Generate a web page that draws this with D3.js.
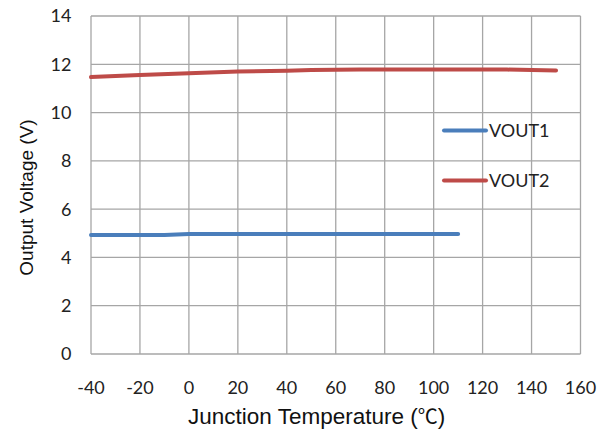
<!DOCTYPE html>
<html>
<head>
<meta charset="utf-8">
<script src="https://cdn.jsdelivr.net/npm/d3@7"></script>
<style>
  body { margin: 0; background: #fff; }
  svg { display: block; }
</style>
</head>
<body>
<script>
// values
var xTicks = [-40, -20, 0, 20, 40, 60, 80, 100, 120, 140, 160];
var yTicks = [0, 2, 4, 6, 8, 10, 12, 14];

var vout1Temp = [-40, -10, 0, 110];
var vout1Volt = [4.93, 4.93, 4.97, 4.97];

var vout2Temp = [-40, -20, 0, 20, 40, 50, 70, 130, 150];
var vout2Volt = [11.47, 11.56, 11.63, 11.70, 11.73, 11.76, 11.78, 11.78, 11.74];

var seriesNames = ["VOUT1", "VOUT2"];
var seriesColors = ["#4a7ebb", "#be4b48"];

var width = 609, height = 433;
var plotLeft = 91, plotRight = 580.5, plotTop = 16, plotBottom = 354;

var svg = d3.select("body").append("svg")
            .attr("width", width)
            .attr("height", height);

var x = d3.scaleLinear().domain([-40, 160]).range([plotLeft, plotRight]);
var y = d3.scaleLinear().domain([0, 14]).range([plotBottom, plotTop]);

var tickFont = "Lato, 'Open Sans', sans-serif";

// grid
svg.append("g").selectAll("line")
   .data(xTicks)
   .enter().append("line")
   .attr("x1", function (d) { return x(d); })
   .attr("x2", function (d) { return x(d); })
   .attr("y1", plotTop)
   .attr("y2", plotBottom)
   .attr("stroke", "#a6a6a6")
   .attr("stroke-width", 1.3);

svg.append("g").selectAll("line")
   .data(yTicks)
   .enter().append("line")
   .attr("x1", plotLeft)
   .attr("x2", plotRight)
   .attr("y1", function (d) { return y(d); })
   .attr("y2", function (d) { return y(d); })
   .attr("stroke", "#a6a6a6")
   .attr("stroke-width", 1.3);

// tick labels
svg.append("g").selectAll("text")
   .data(yTicks)
   .enter().append("text")
   .attr("x", 71.5)
   .attr("y", function (d) { return y(d); })
   .attr("dy", "0.36em")
   .attr("text-anchor", "end")
   .style("font-family", tickFont)
   .style("font-size", "18px")
   .style("fill", "#222")
   .text(function (d) { return d; });

svg.append("g").selectAll("text")
   .data(xTicks)
   .enter().append("text")
   .attr("x", function (d) { return x(d); })
   .attr("y", 388)
   .attr("dy", "0.36em")
   .attr("text-anchor", "middle")
   .style("font-family", tickFont)
   .style("font-size", "18px")
   .style("fill", "#222")
   .text(function (d) { return d; });

// axis titles
var xTitle = svg.append("text")
   .attr("x", 188)
   .attr("y", 424)
   .style("font-family", "'Liberation Sans', Arial, sans-serif")
   .style("font-size", "22.5px")
   .style("fill", "#111");
xTitle.append("tspan").text("Junction Temperature (");
xTitle.append("tspan")
      .style("font-family", "'Noto Sans CJK SC', sans-serif")
      .style("font-size", "20px")
      .text("℃");
xTitle.append("tspan").text(")");

svg.append("text")
   .attr("transform", "translate(33,197.5) rotate(-90)")
   .attr("text-anchor", "middle")
   .style("font-family", "'Liberation Sans', Arial, sans-serif")
   .style("font-size", "19px")
   .style("fill", "#111")
   .text("Output Voltage (V)");

// lines
var line = d3.line()
             .x(function (d) { return x(d[0]); })
             .y(function (d) { return y(d[1]); });

var series = [d3.zip(vout1Temp, vout1Volt), d3.zip(vout2Temp, vout2Volt)];

svg.append("g").selectAll("path")
   .data(series)
   .enter().append("path")
   .attr("d", line)
   .attr("fill", "none")
   .attr("stroke", function (d, i) { return seriesColors[i]; })
   .attr("stroke-width", 4)
   .attr("stroke-linecap", "round");

// legend
var legend = svg.append("g").selectAll("g")
                .data(seriesNames)
                .enter().append("g")
                .attr("transform", function (d, i) { return "translate(444," + (130.5 + i * 50) + ")"; });

legend.append("line")
      .attr("x1", 0)
      .attr("x2", 42)
      .attr("stroke", function (d, i) { return seriesColors[i]; })
      .attr("stroke-width", 4)
      .attr("stroke-linecap", "round");

legend.append("text")
      .attr("x", 45)
      .attr("dy", "0.36em")
      .style("font-family", tickFont)
      .style("font-size", "18px")
      .style("fill", "#222")
      .text(function (d) { return d; });
</script>
</body>
</html>
